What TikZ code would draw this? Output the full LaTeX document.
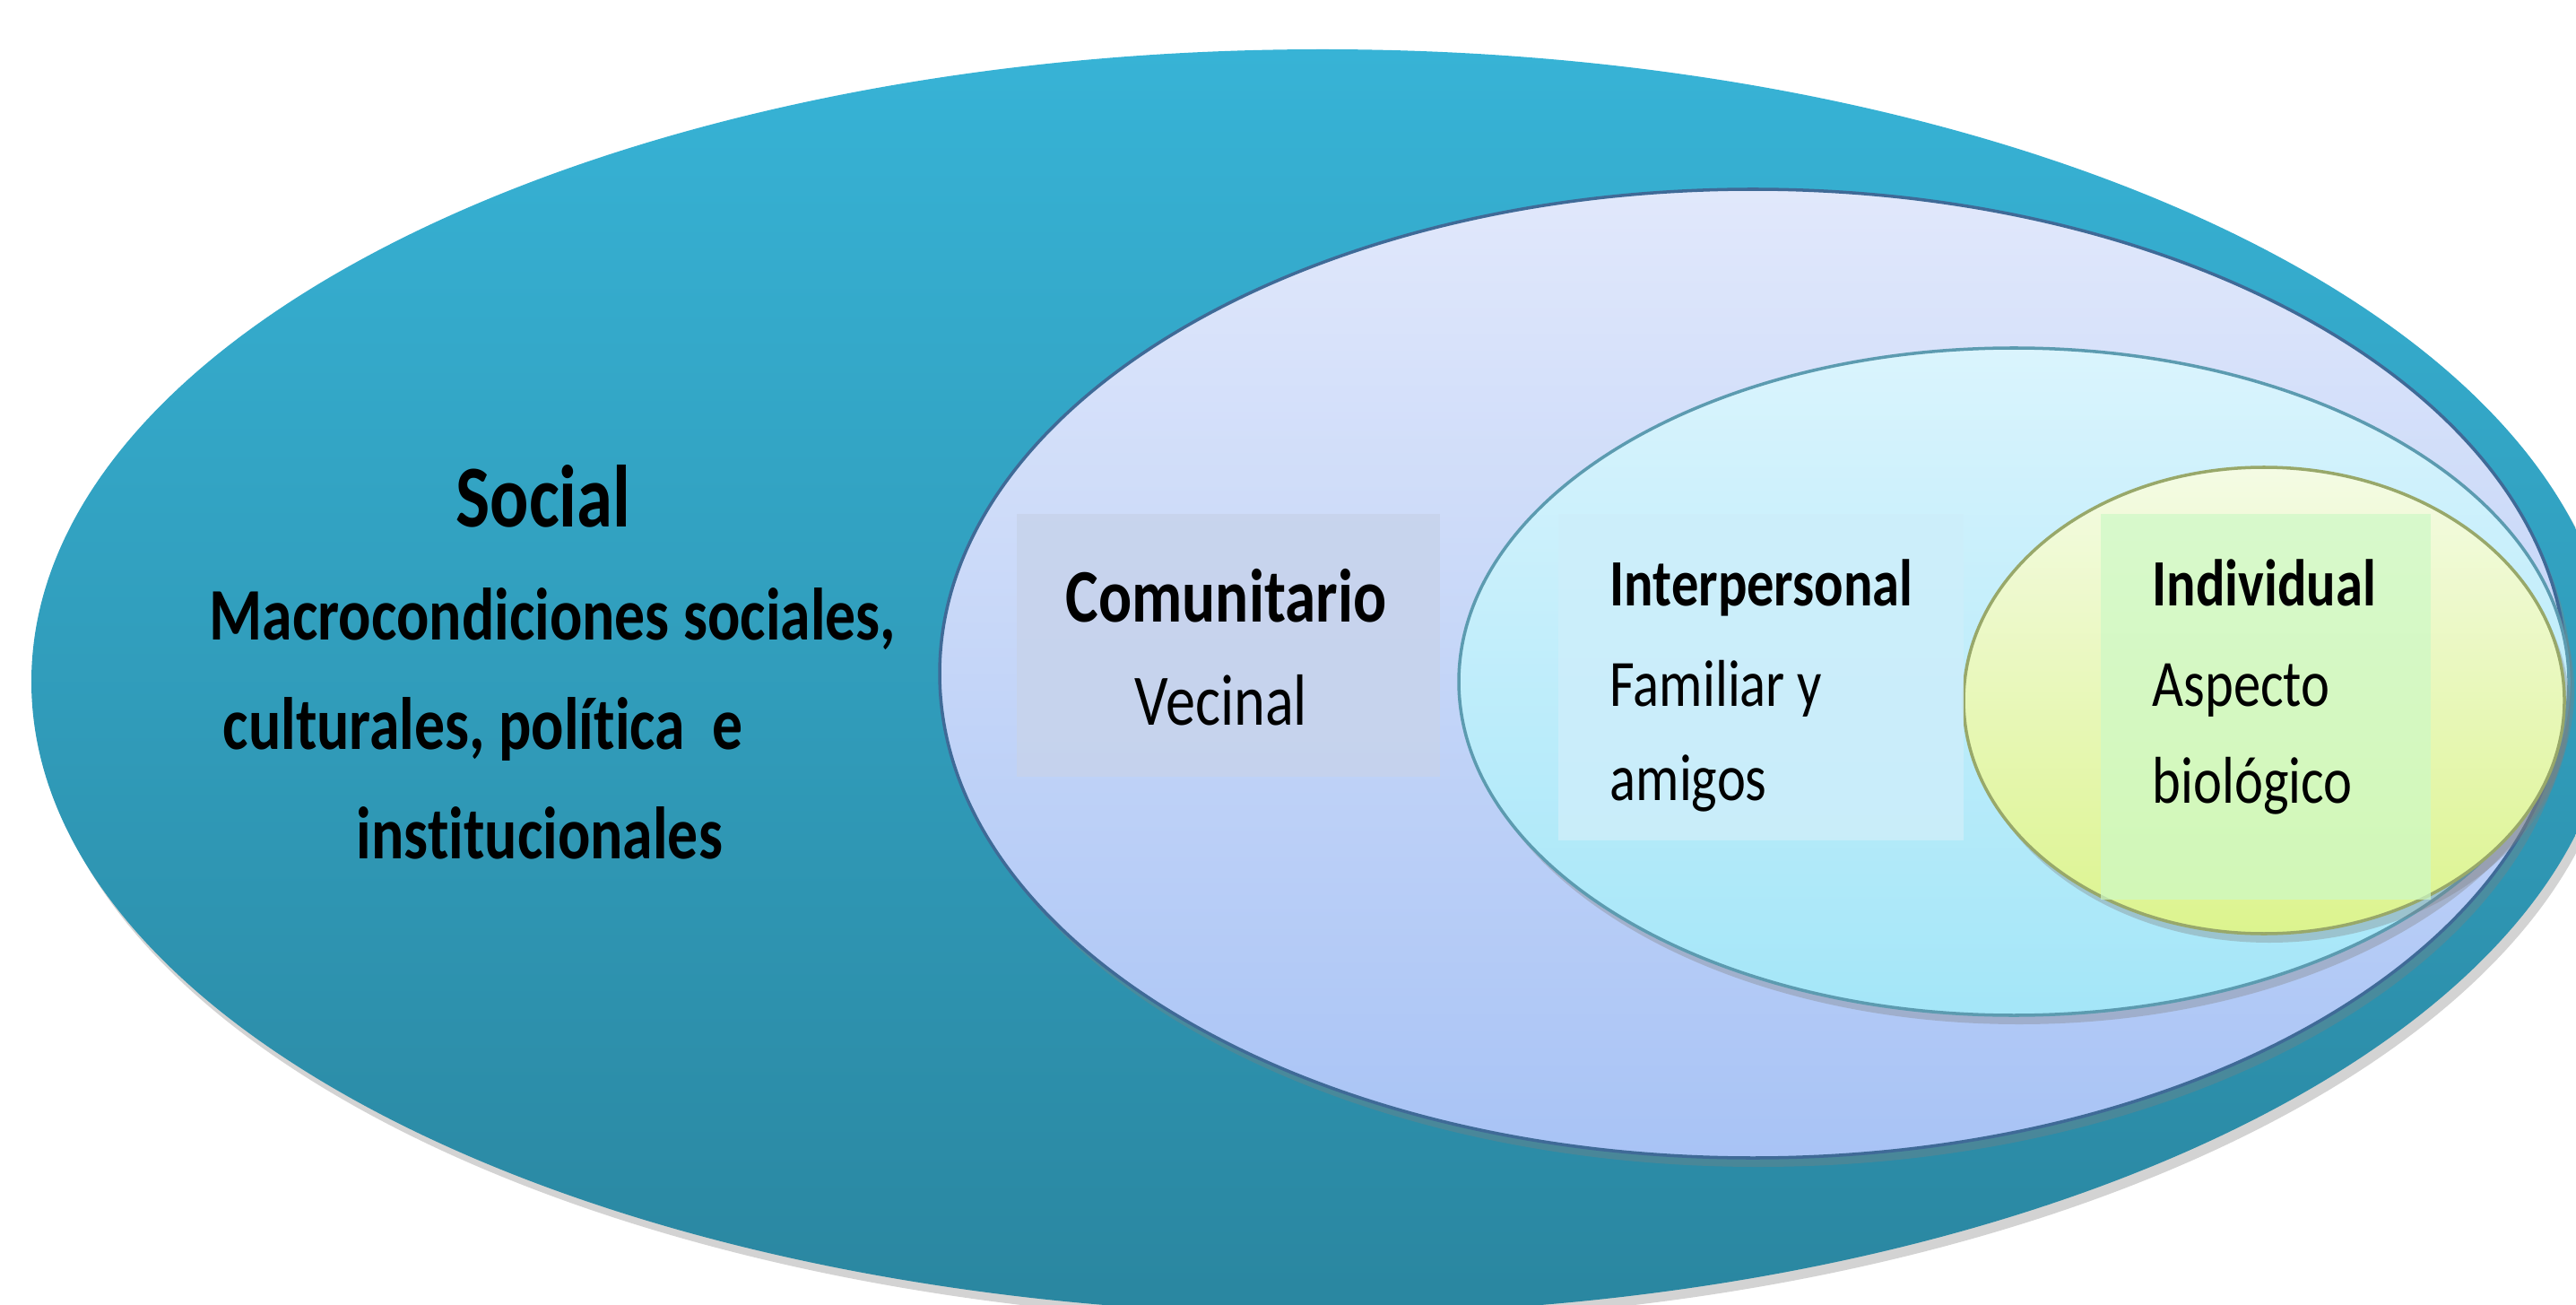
\documentclass[tikz,border=0pt]{standalone}
\usepackage{fontspec}
\setmainfont{Carlito}[FakeStretch=0.82,Ligatures=NoCommon]
\usepackage{tikz}
\usetikzlibrary{shapes.geometric,shadows,positioning}

\definecolor{socialtop}{HTML}{37B3D6}
\definecolor{socialbot}{HTML}{2A86A0}
\definecolor{comtop}{HTML}{E1E8FB}
\definecolor{combot}{HTML}{A8C3F5}
\definecolor{comline}{HTML}{3F6A97}
\definecolor{intertop}{HTML}{DAF4FD}
\definecolor{interbot}{HTML}{A4E6F8}
\definecolor{interline}{HTML}{5C9BB0}
\definecolor{indivtop}{HTML}{F4FBE4}
\definecolor{indivbot}{HTML}{DCF48E}
\definecolor{indivline}{HTML}{98A86A}
\definecolor{comfill}{HTML}{C7D3EC}
\definecolor{interfill}{HTML}{CDEEFA}
\definecolor{indivfill}{HTML}{CDF9C6}

\begin{document}
\begin{tikzpicture}
  \tikzstyle{level}=[ellipse,inner sep=0pt,shading=axis,
                     drop shadow={shadow xshift=0.06cm,shadow yshift=-0.1cm,opacity=0.35}]
  \tikzstyle{social level}=[level,top color=socialtop,bottom color=socialbot]
  \tikzstyle{com level}=[level,top color=comtop,bottom color=combot,draw=comline,line width=1pt]
  \tikzstyle{inter level}=[level,top color=intertop,bottom color=interbot,draw=interline,line width=1pt]
  \tikzstyle{indiv level}=[level,top color=indivtop,bottom color=indivbot,draw=indivline,line width=1pt]
  \tikzstyle{textbox}=[rectangle,inner sep=0pt,anchor=north west,fill opacity=0.85]
  \tikzstyle{head}=[anchor=base west,inner sep=0pt,font=\bfseries\fontsize{21}{25}\selectfont]
  \tikzstyle{body}=[anchor=base west,inner sep=0pt,font=\fontsize{21}{25}\selectfont]
  \tikzstyle{macro}=[anchor=base west,inner sep=0pt,font=\bfseries\fontsize{23.5}{28}\selectfont]

  \clip (0,0) rectangle (28.73,14.54);

  % the four levels
  \node [social level,minimum width=28.8cm,minimum height=14.1cm] (social) at (14.75,6.94) {};
  \node [com level,minimum width=18.14cm,minimum height=10.8cm] (com) at (19.55,7.03) {};
  \node [inter level,minimum width=12.38cm,minimum height=7.44cm] (inter) at (22.46,6.94) {};
  \node [indiv level,minimum width=6.7cm,minimum height=5.2cm] (indiv) at (25.25,6.73) {};

  % boxes behind the texts
  \node [textbox,fill=comfill,minimum width=4.72cm,minimum height=2.93cm] (combox) at (11.33,8.82) {};
  \node [textbox,fill=interfill,minimum width=4.52cm,minimum height=3.64cm] (interbox) at (17.37,8.82) {};
  \node [textbox,fill=indivfill,fill opacity=0.7,minimum width=3.68cm,minimum height=4.3cm] (indivbox) at (23.42,8.82) {};

  % social
  \node [anchor=base,inner sep=0pt,font=\bfseries\fontsize{28}{32}\selectfont] (soc) at (6.06,8.67) {Social};
  \node [macro] (soc1) at (2.33,7.41) {Macrocondiciones sociales,};
  \node [macro] (soc2) at (2.48,6.19) {culturales, política\ \ e};
  \node [macro] (soc3) at (3.97,4.97) {institucionales};

  % comunitario
  \node [head,font=\bfseries\fontsize{24}{28}\selectfont] (comhead) at (11.88,7.61) {Comunitario};
  \node [body,font=\fontsize{23}{27}\selectfont] (com1) at (12.65,6.46) {Vecinal};

  % interpersonal
  \node [head] (interhead) at (17.95,7.79) {Interpersonal};
  \node [body,below=1.12cm of interhead.base west,anchor=base west] (inter1) {Familiar y};
  \node [body,below=1.05cm of inter1.base west,anchor=base west] (inter2) {amigos};

  % individual
  \node [head] (indivhead) at (24.00,7.79) {Individual};
  \node [body,below=1.12cm of indivhead.base west,anchor=base west] (indiv1) {Aspecto};
  \node [body,below=1.08cm of indiv1.base west,anchor=base west] (indiv2) {biológico};
\end{tikzpicture}
\end{document}
